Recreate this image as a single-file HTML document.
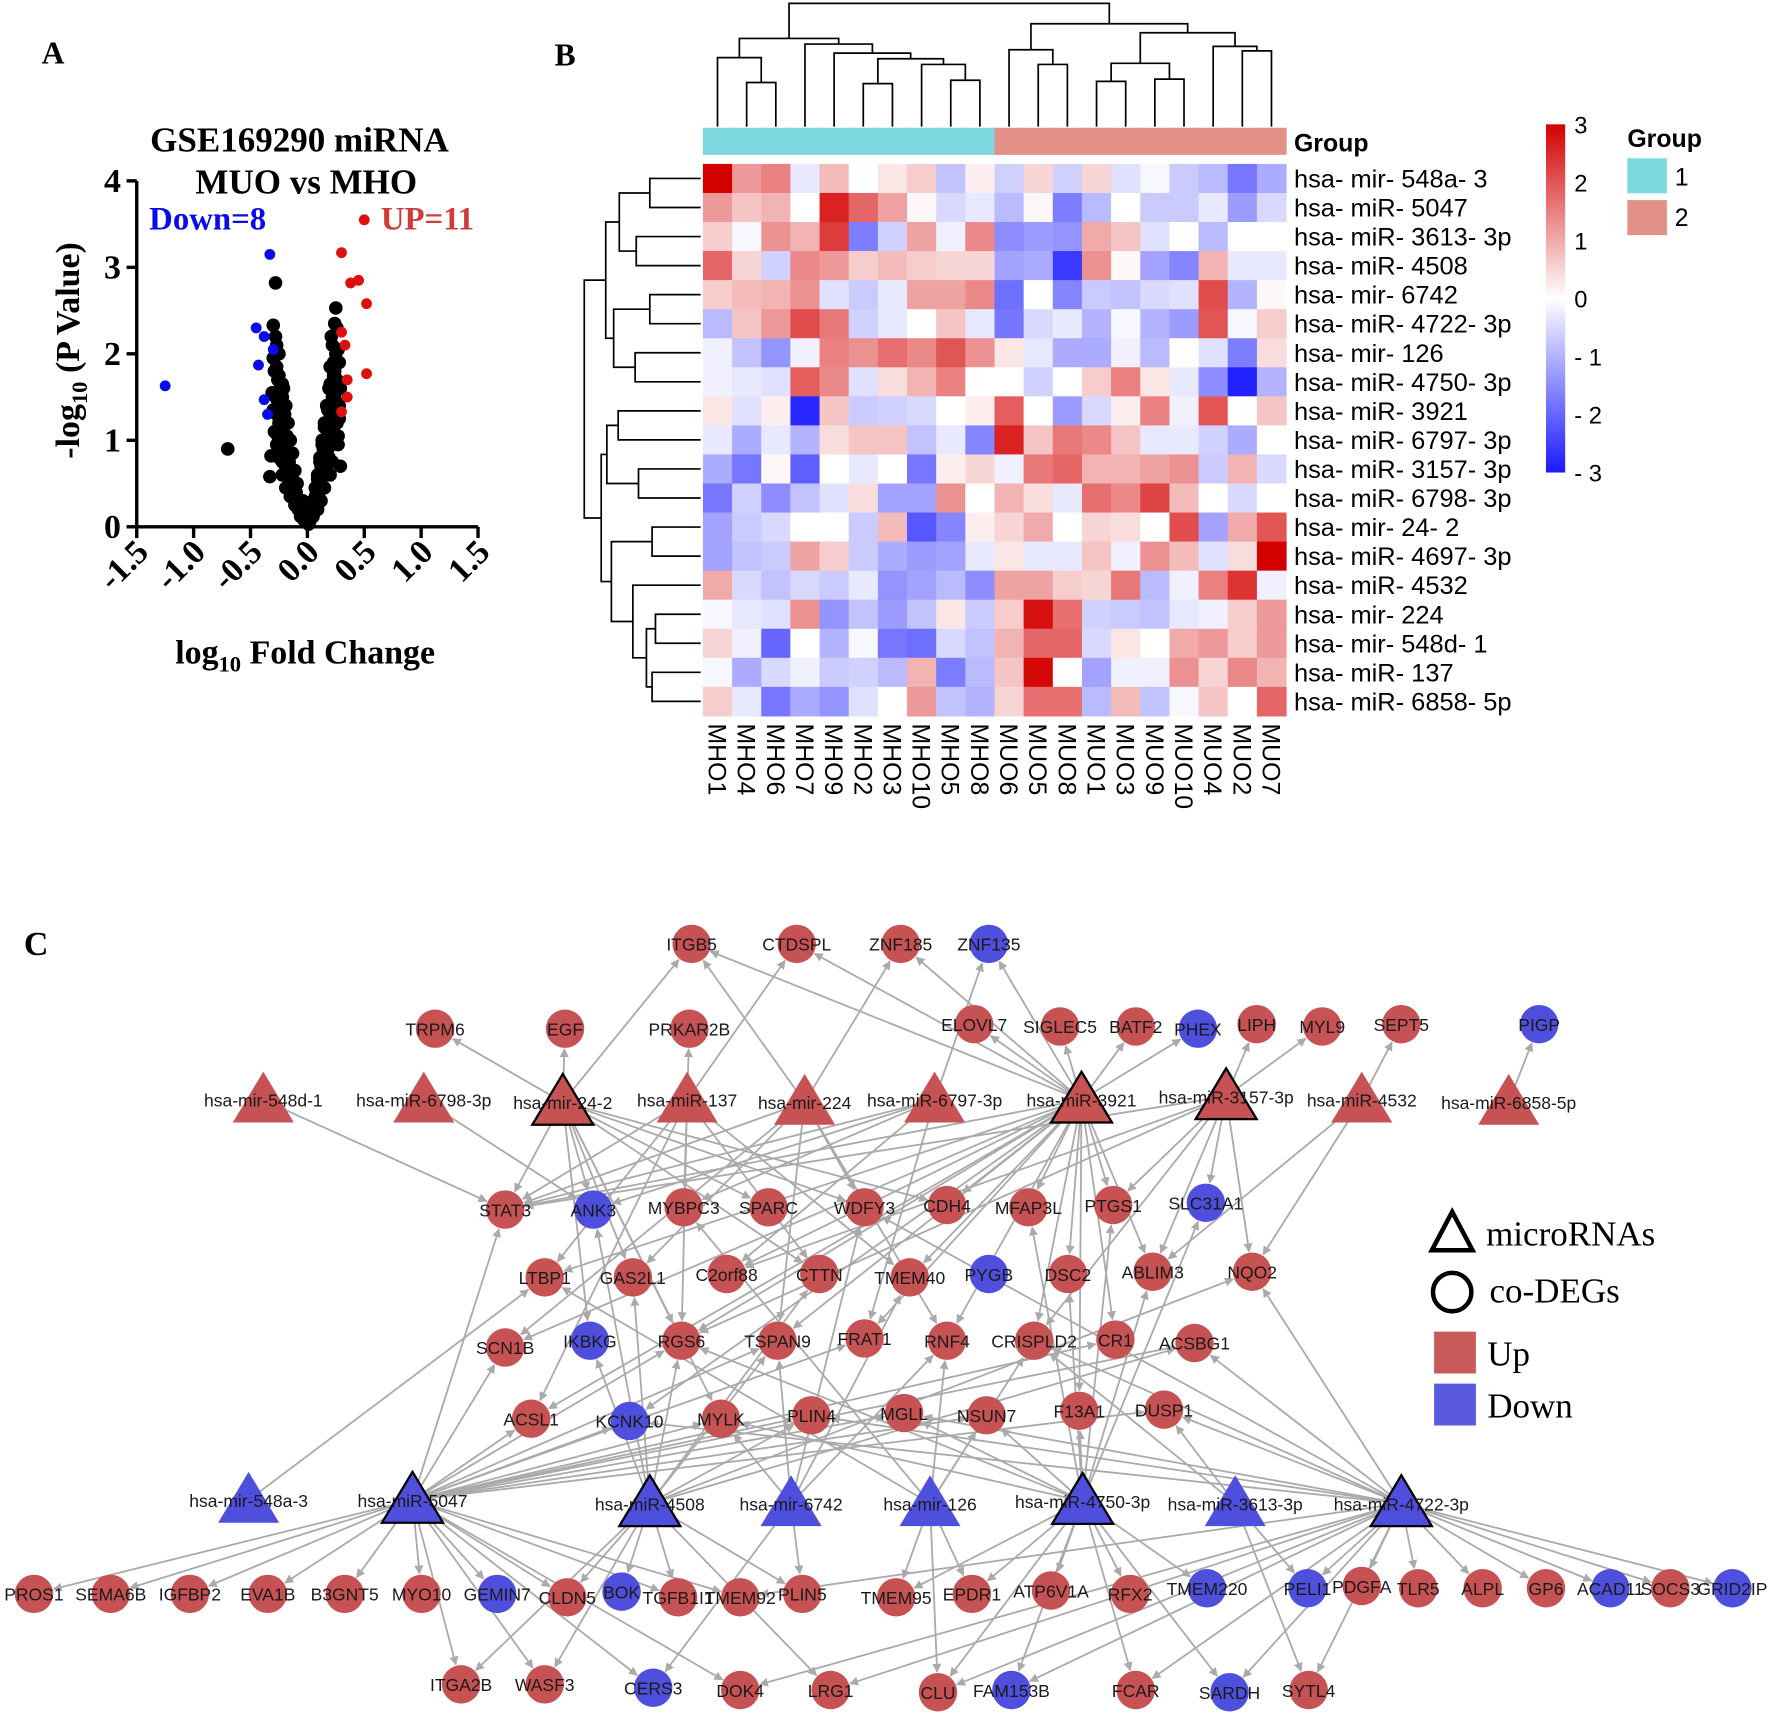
<!DOCTYPE html>
<html><head><meta charset="utf-8"><title>miRNA figure</title>
<style>html,body{margin:0;padding:0;background:#fff}svg{display:block}</style></head>
<body>
<svg id="fig" width="1772" height="1716" viewBox="0 0 1568 1518" preserveAspectRatio="none" xmlns="http://www.w3.org/2000/svg">
<defs>
<marker id="arr" viewBox="0 0 10 10" refX="9" refY="5" markerWidth="5" markerHeight="5" orient="auto"><path d="M0,0 L10,5 L0,10 z" fill="#aaa"/></marker>
<linearGradient id="cbar" x1="0" y1="0" x2="0" y2="1"><stop offset="0" stop-color="#d40000"/><stop offset="0.5" stop-color="#ffffff"/><stop offset="1" stop-color="#1a1aff"/></linearGradient>
</defs>
<g id="panelA"></g>
<g id="panelB"></g>
<g id="panelC"></g>
</svg>
<script>
// ---------- Panel A data ----------
const blackX = [-0.7,-0.28,-0.3,-0.33,-0.32,-0.28,-0.3,-0.27,-0.25,-0.29,-0.26,-0.24,-0.31,-0.28,-0.25,-0.22,-0.3,-0.27,-0.24,-0.21,-0.29,-0.26,-0.23,-0.2,-0.27,-0.24,-0.21,-0.18,-0.25,-0.22,-0.19,-0.16,-0.22,-0.19,-0.16,-0.13,-0.19,-0.16,-0.13,-0.1,-0.15,-0.12,-0.09,-0.07,-0.11,-0.08,-0.06,-0.04,-0.06,-0.03,-0.02,0,
 0.25,0.26,0.24,0.27,0.22,0.25,0.28,0.2,0.23,0.26,0.29,0.19,0.22,0.25,0.28,0.17,0.2,0.23,0.26,0.15,0.18,0.21,0.24,0.27,0.13,0.16,0.19,0.22,0.11,0.14,0.17,0.2,0.09,0.12,0.15,0.07,0.1,0.12,0.05,0.07,0.09,0.03,0.05,0.02,0.28,0.27,0.29,
 -0.27,-0.25,-0.23,-0.26,-0.24,-0.22,-0.2,-0.25,-0.23,-0.21,-0.19,-0.23,-0.21,-0.19,-0.17,-0.2,-0.18,-0.16,-0.14,-0.17,-0.15,-0.13,-0.11,-0.14,-0.12,-0.1,-0.08,-0.1,-0.08,-0.06,-0.05,-0.04,-0.02,-0.01,
 0.21,0.23,0.24,0.2,0.22,0.24,0.18,0.2,0.22,0.25,0.16,0.18,0.2,0.23,0.14,0.16,0.18,0.21,0.12,0.14,0.16,0.18,0.1,0.12,0.14,0.08,0.1,0.11,0.06,0.07,0.04,0.03,0.01,0.01,
 -0.21,-0.19,-0.17,-0.15,-0.13,-0.11,-0.09,0.19,0.17,0.15,0.13,0.11,0.09,0.07];
const blackY = [0.9,2.82,2.33,0.58,0.82,2.2,1.95,2.1,2.0,1.8,1.7,1.6,1.55,1.5,1.45,1.65,1.35,1.3,1.25,1.4,1.1,1.05,1.15,1.2,0.95,0.9,1.0,1.05,0.8,0.75,0.85,0.7,0.6,0.65,0.7,0.55,0.45,0.5,0.55,0.4,0.35,0.38,0.3,0.25,0.25,0.22,0.18,0.15,0.12,0.08,0.1,0.05,
 2.53,2.3,2.35,2.05,2.1,2.0,1.9,1.85,1.75,1.7,1.6,1.6,1.5,1.45,1.4,1.4,1.3,1.25,1.2,1.15,1.1,1.05,1.0,0.95,0.95,0.85,0.8,0.75,0.75,0.7,0.65,0.6,0.55,0.5,0.45,0.45,0.38,0.3,0.3,0.25,0.2,0.15,0.12,0.06,1.25,1.05,0.7,
 1.85,1.75,1.6,1.45,1.35,1.5,1.3,1.2,1.1,1.2,1.0,1.0,0.9,0.95,0.85,0.8,0.7,0.75,0.6,0.6,0.5,0.55,0.45,0.45,0.35,0.4,0.3,0.28,0.2,0.22,0.12,0.3,0.15,0.08,
 2.2,1.9,1.8,1.65,1.55,1.5,1.35,1.35,1.25,1.3,1.15,1.1,1.0,1.1,0.9,0.85,0.9,0.95,0.7,0.65,0.75,0.8,0.5,0.55,0.6,0.4,0.42,0.5,0.25,0.35,0.2,0.1,0.03,0.15,
 1.6,1.4,1.2,1.0,0.85,0.65,0.5,1.6,1.4,1.2,1.0,0.8,0.6,0.45];
const blueX = [-1.25,-0.33,-0.45,-0.38,-0.3,-0.43,-0.38,-0.35];
const blueY = [1.63,3.15,2.3,2.2,2.05,1.87,1.47,1.3];
const redX = [0.5,0.3,0.38,0.45,0.52,0.3,0.33,0.35,0.35,0.3,0.52];
const redY = [3.55,3.17,2.82,2.85,2.58,2.25,2.1,1.7,1.5,1.33,1.77];
const xTicks = ["-1.5","-1.0","-0.5","0.0","0.5","1.0","1.5"];
const xTickVals = [-1.5,-1,-0.5,0,0.5,1,1.5];
const yTickVals = [0,1,2,3,4];

// ---------- Panel B data ----------
const heatRows = ["hsa- mir- 548a- 3","hsa- miR- 5047","hsa- miR- 3613- 3p","hsa- miR- 4508","hsa- mir- 6742","hsa- miR- 4722- 3p","hsa- mir- 126","hsa- miR- 4750- 3p","hsa- miR- 3921","hsa- miR- 6797- 3p","hsa- miR- 3157- 3p","hsa- miR- 6798- 3p","hsa- mir- 24- 2","hsa- miR- 4697- 3p","hsa- miR- 4532","hsa- mir- 224","hsa- mir- 548d- 1","hsa- miR- 137","hsa- miR- 6858- 5p"];
const heatCols = ["MHO1","MHO4","MHO6","MHO7","MHO9","MHO2","MHO3","MHO10","MHO5","MHO8","MUO6","MUO5","MUO8","MUO1","MUO3","MUO9","MUO10","MUO4","MUO2","MUO7"];
const heatGroups = [1,1,1,1,1,1,1,1,1,1,2,2,2,2,2,2,2,2,2,2];
const heatVals = [
[3,1.2,1.5,-0.3,0.8,0,0.3,0.6,-0.8,0.2,-0.6,0.5,-0.6,0.5,-0.4,-0.1,-0.7,-0.9,-1.8,-1.1],
[1.2,0.7,0.9,0,2.6,1.8,1.1,0.1,-0.5,-0.3,-0.9,0.1,-1.7,-0.9,0,-0.7,-0.7,-0.3,-1.3,-0.5],
[0.6,-0.1,1.3,0.9,2.3,-1.7,-0.6,1.1,-0.2,1.4,-1.5,-1.3,-1.4,1.0,0.7,-0.4,0,-0.9,0,0],
[1.8,0.5,-0.6,1.4,1.2,0.6,0.8,0.6,0.5,0.5,-1.2,-1.1,-2.6,1.3,0.1,-1.2,-1.6,0.9,-0.3,-0.3],
[0.6,0.8,0.9,1.3,-0.4,-0.7,-0.3,1.1,1.1,1.4,-1.9,0,-1.6,-0.7,-0.8,-0.5,-0.4,2.1,-1,0.1],
[-0.9,0.7,1.2,2.1,1.6,-0.6,-0.3,0,0.7,-0.3,-1.8,-0.5,-0.3,-1.0,-0.1,-1.0,-1.3,2.0,-0.1,0.6],
[-0.2,-0.8,-1.4,-0.2,1.5,1.3,1.7,1.4,2.0,1.3,0.3,-0.3,-1.1,-1.1,-0.2,-0.9,0,-0.4,-1.7,0.4],
[-0.2,-0.3,-0.4,1.9,1.4,-0.4,0.4,0.9,1.5,0,0,-0.6,0,0.6,1.5,0.3,-0.3,-1.5,-2.9,-1.0],
[0.3,-0.4,0.2,-2.8,0.7,-0.7,-0.6,-0.5,0,0.2,1.9,0,-1.3,-0.5,0.2,1.5,-0.2,2.0,0,0.7],
[-0.3,-1.1,-0.3,-1.0,0.4,0.7,0.7,-0.8,-0.3,-1.6,2.6,0.7,1.6,1.4,0.7,-0.3,-0.3,-0.6,-1.1,0],
[-1.1,-1.8,0.1,-2.1,0,-0.3,0,-1.8,0.2,0.5,-0.2,1.6,1.8,0.9,0.9,1.1,1.3,-0.7,0.9,-0.5],
[-1.8,-0.6,-1.5,-0.8,-0.4,0.4,-1.2,-1.2,1.3,0,0.9,0.4,-0.3,1.7,1.4,2.2,0.8,0,-0.5,0],
[-1.2,-0.7,-0.5,0,0,-0.7,0.8,-2.2,-1.6,0.2,0.5,1.0,0,0.5,0.4,0,2.1,-1.2,1.0,2.0],
[-1.2,-0.8,-0.7,1.1,0.6,-0.7,-1.1,-1.3,-1.2,-0.3,0.3,-0.3,-0.3,0.7,-0.2,1.3,0.8,-0.4,0.4,3],
[1.0,-0.5,-0.8,-0.5,-0.7,-0.3,-1.4,-1.2,-0.9,-1.5,1.1,1.1,0.6,0.5,1.6,-0.9,-0.2,1.5,2.4,-0.2],
[-0.1,-0.3,-0.4,1.3,-1.4,-0.8,-1.3,-0.8,0.3,-0.7,0.6,2.8,1.7,-0.6,-0.7,-0.8,-0.3,-0.2,0.6,1.2],
[0.5,-0.2,-2.0,0,-1.0,-0.1,-1.8,-1.9,-0.5,-0.8,0.9,1.8,1.8,-0.5,0.3,0,1.0,1.2,0.6,1.2],
[-0.1,-1.1,-0.5,-0.2,-0.7,-0.6,-0.9,0.9,-1.7,-0.9,0.7,2.9,0,-1.2,-0.2,-0.2,1.3,0.5,1.4,0.9],
[0.6,-0.3,-1.8,-1.1,-1.4,-0.4,0,1.2,-0.8,-1.0,0.5,1.7,1.7,-0.9,0.8,-0.8,-0.1,0.7,0,1.8]];
const cbarTicks = ["3","2","1","0","- 1","- 2","- 3"];
const cbarVals = [3,2,1,0,-1,-2,-3];

// ---------- Panel C data ----------
const nodeNames = ["ITGB5","CTDSPL","ZNF185","ZNF135","TRPM6","EGF","PRKAR2B","ELOVL7","SIGLEC5","BATF2","PHEX","LIPH","MYL9","SEPT5","PIGP",
"hsa-mir-548d-1","hsa-miR-6798-3p","hsa-mir-24-2","hsa-miR-137","hsa-mir-224","hsa-miR-6797-3p","hsa-miR-3921","hsa-miR-3157-3p","hsa-miR-4532","hsa-miR-6858-5p",
"STAT3","ANK3","MYBPC3","SPARC","WDFY3","CDH4","MFAP3L","PTGS1","SLC31A1",
"LTBP1","GAS2L1","C2orf88","CTTN","TMEM40","PYGB","DSC2","ABLIM3","NQO2",
"SCN1B","IKBKG","RGS6","TSPAN9","FRAT1","RNF4","CRISPLD2","CR1","ACSBG1",
"ACSL1","KCNK10","MYLK","PLIN4","MGLL","NSUN7","F13A1","DUSP1",
"hsa-mir-548a-3","hsa-miR-5047","hsa-miR-4508","hsa-mir-6742","hsa-mir-126","hsa-miR-4750-3p","hsa-miR-3613-3p","hsa-miR-4722-3p",
"PROS1","SEMA6B","IGFBP2","EVA1B","B3GNT5","MYO10","GEMIN7","CLDN5","BOK","TGFB1I1","TMEM92","PLIN5","TMEM95","EPDR1","ATP6V1A","RFX2","TMEM220","PELI1","PDGFA","TLR5","ALPL","GP6","ACAD11","SOCS3","GRID2IP",
"ITGA2B","WASF3","CERS3","DOK4","LRG1","CLU","FAM153B","FCAR","SARDH","SYTL4"];
const nodeX = [612,705,797,875,385,500,610,862,938,1005,1060,1112,1170,1240,1362,
233,375,498,608,712,827,957,1085,1205,1335,
447,525,605,680,765,838,910,985,1067,
482,560,643,725,805,875,945,1020,1108,
447,522,603,688,765,838,915,987,1057,
470,557,638,718,800,873,955,1030,
220,365,575,700,823,958,1093,1240,
30,98,168,237,305,373,440,502,550,600,655,710,793,860,930,1000,1068,1157,1205,1255,1312,1368,1425,1478,1533,
408,482,578,655,735,830,895,1005,1088,1158];
const nodeY = [835,835,835,835,910,910,910,906,908,908,910,906,908,906,906,
973,973,975,973,975,973,973,970,973,975,
1070,1070,1068,1068,1068,1066,1068,1066,1064,
1130,1130,1127,1127,1130,1127,1127,1125,1125,
1192,1186,1186,1186,1184,1186,1186,1185,1188,
1255,1257,1255,1252,1250,1252,1248,1247,
1327,1327,1330,1330,1330,1328,1330,1330,
1410,1410,1410,1410,1410,1410,1410,1413,1408,1413,1413,1410,1413,1410,1407,1410,1405,1405,1403,1405,1405,1405,1405,1405,1405,
1490,1490,1493,1495,1495,1497,1495,1495,1497,1495];
const outlinedMirs = ["hsa-mir-24-2","hsa-miR-3921","hsa-miR-3157-3p","hsa-miR-5047","hsa-miR-4508","hsa-miR-4750-3p","hsa-miR-4722-3p"];
const downGenes = ["ZNF135","PHEX","PIGP","ANK3","SLC31A1","PYGB","IKBKG","KCNK10","GEMIN7","BOK","TMEM220","PELI1","ACAD11","GRID2IP","CERS3","FAM153B","SARDH"];
const downMirs = ["hsa-mir-548a-3","hsa-miR-5047","hsa-miR-4508","hsa-mir-6742","hsa-mir-126","hsa-miR-4750-3p","hsa-miR-3613-3p","hsa-miR-4722-3p"];
const edgeSrc = {
"hsa-mir-24-2":["TRPM6","EGF","ITGB5","STAT3","ANK3","GAS2L1","SPARC","WDFY3","RGS6","MYLK","CDH4","CTTN","IKBKG"],
"hsa-miR-137":["PRKAR2B","CTDSPL","MYBPC3","RGS6","STAT3","CTTN","TMEM40","LTBP1","ACSL1"],
"hsa-mir-224":["ZNF185","ITGB5","STAT3","RNF4","WDFY3","TSPAN9","SCN1B","GAS2L1"],
"hsa-miR-6797-3p":["ZNF135","STAT3","ANK3","C2orf88","MYBPC3","FRAT1"],
"hsa-mir-548d-1":["STAT3"],
"hsa-miR-6798-3p":["ANK3"],
"hsa-miR-3921":["ITGB5","CTDSPL","ZNF185","ZNF135","ELOVL7","SIGLEC5","BATF2","PHEX","STAT3","CDH4","MFAP3L","PTGS1","DSC2","ABLIM3","RNF4","CRISPLD2","F13A1","TMEM40","RGS6","TSPAN9","ACSL1","KCNK10","SCN1B","LTBP1","C2orf88","FRAT1","CR1"],
"hsa-miR-3157-3p":["LIPH","MYL9","SLC31A1","NQO2","ABLIM3","PTGS1","STAT3","RGS6","CRISPLD2","C2orf88"],
"hsa-miR-4532":["SEPT5","NQO2","ABLIM3"],
"hsa-miR-6858-5p":["PIGP"],
"hsa-mir-548a-3":["LTBP1"],
"hsa-miR-5047":["PROS1","SEMA6B","IGFBP2","EVA1B","B3GNT5","MYO10","GEMIN7","ITGA2B","WASF3","CLDN5","TGFB1I1","TMEM92","STAT3","SCN1B","ACSL1","KCNK10","RGS6","TSPAN9","FRAT1","PLIN4","MGLL","NSUN7","DUSP1","CR1","ACSBG1","MYLK","CERS3","DOK4"],
"hsa-miR-4508":["BOK","TGFB1I1","CLDN5","PLIN5","ITGA2B","GAS2L1","RGS6","ANK3","IKBKG","TSPAN9","CTTN","PLIN4","LRG1","WASF3","ACSBG1","NQO2"],
"hsa-mir-6742":["PLIN5","CERS3","TSPAN9","MYLK","RNF4","TMEM40","WDFY3"],
"hsa-mir-126":["RNF4","CRISPLD2","MYBPC3","CLU","NSUN7","TMEM95","EPDR1","LTBP1"],
"hsa-miR-4750-3p":["F13A1","ATP6V1A","RFX2","TMEM220","FCAR","SARDH","SLC31A1","MYLK","MGLL","NSUN7","CLU","FAM153B","EPDR1","TMEM95","MFAP3L","PTGS1","DSC2","ABLIM3","RGS6"],
"hsa-miR-3613-3p":["PELI1","DUSP1","SYTL4","CRISPLD2"],
"hsa-miR-4722-3p":["TLR5","ALPL","GP6","ACAD11","SOCS3","GRID2IP","PDGFA","SYTL4","SARDH","FCAR","FAM153B","CLU","NQO2","ACSBG1","CRISPLD2","MGLL","PLIN4","TMEM92","PELI1","KCNK10","DOK4","LRG1","WDFY3","DUSP1"]
};

const NS = "http://www.w3.org/2000/svg";
function mk(parent, tag, attrs, text){
  const e = document.createElementNS(NS, tag);
  for (const k in attrs) e.setAttribute(k, attrs[k]);
  if (text !== undefined) e.textContent = text;
  parent.appendChild(e);
  return e;
}
const serif = "'Liberation Serif', serif";
const sans = "'Liberation Sans', Arial, sans-serif";

// ================= Panel A =================
(function(){
  const g = document.getElementById('panelA');
  const X0 = 121, X1 = 423, Y0 = 466, Y1 = 160;
  const sx = v => X0 + (v + 1.5) / 3 * (X1 - X0);
  const sy = v => Y0 - v / 4 * (Y0 - Y1);
  let t;
  t = mk(g,'text',{x:47,y:56,'font-family':serif,'font-weight':'bold','font-size':28,'text-anchor':'middle'},'A');
   
  t = mk(g,'text',{x:265,y:134,'font-family':serif,'font-weight':'bold','font-size':31,'text-anchor':'middle'},'GSE169290 miRNA');
   
  t = mk(g,'text',{x:271,y:171,'font-family':serif,'font-weight':'bold','font-size':31,'text-anchor':'middle'},'MUO vs MHO');
   
  t = mk(g,'text',{x:132,y:203,'font-family':serif,'font-weight':'bold','font-size':29,fill:'#0a0aee'},'Down=8');
   
  t = mk(g,'text',{x:337,y:203,'font-family':serif,'font-weight':'bold','font-size':29,fill:'#d23a3a'},'UP=11');
   
  const ax = mk(g,'g',{});
   
  mk(ax,'line',{x1:X0,y1:Y1,x2:X0,y2:Y0,stroke:'#000','stroke-width':3});
  mk(ax,'line',{x1:X0,y1:Y0,x2:X1,y2:Y0,stroke:'#000','stroke-width':3});
  yTickVals.forEach(v=>{
    mk(ax,'line',{x1:X0-9,y1:sy(v),x2:X0,y2:sy(v),stroke:'#000','stroke-width':3});
    const l = mk(ax,'text',{x:X0-14,y:sy(v)+10,'font-family':serif,'font-weight':'bold','font-size':30,'text-anchor':'end'},String(v));
     
  });
  xTickVals.forEach((v,i)=>{
    mk(ax,'line',{x1:sx(v),y1:Y0,x2:sx(v),y2:Y0+10,stroke:'#000','stroke-width':3});
    const l = mk(ax,'text',{x:sx(v)+12,y:Y0+24,'font-family':serif,'font-weight':'bold','font-size':30,'text-anchor':'end',transform:`rotate(-45 ${sx(v)+12} ${Y0+24})`},xTicks[i]);
     
  });
  t = mk(g,'text',{x:270,y:587,'font-family':serif,'font-weight':'bold','font-size':30,'text-anchor':'middle'});
   
  t.innerHTML = 'log<tspan font-size="20" dy="7">10</tspan><tspan dy="-7"> Fold Change</tspan>';
  t = mk(g,'text',{x:70,y:310,'font-family':serif,'font-weight':'bold','font-size':30,'text-anchor':'middle',transform:'rotate(-90 70 310)'});
   
  t.innerHTML = '-log<tspan font-size="20" dy="7">10</tspan><tspan dy="-7"> (P Value)</tspan>';
  const pts = mk(g,'g',{});
   
  blackX.forEach((v,i)=>{ const c=mk(pts,'circle',{cx:sx(v),cy:sy(blackY[i]),r:6,fill:'#000'});
      });
  blueX.forEach((v,i)=>{ const c=mk(pts,'circle',{cx:sx(v),cy:sy(blueY[i]),r:4.8,fill:'#0a0aee'});
      });
  redX.forEach((v,i)=>{ const c=mk(pts,'circle',{cx:sx(v),cy:sy(redY[i]),r:4.8,fill:'#dd0f0f'});
      });
})();

// ================= Panel B =================
(function(){
  const g = document.getElementById('panelB');
  const L = 622, T = 145, CW = 25.8, RH = 25.7;
  let t = mk(g,'text',{x:500,y:58,'font-family':serif,'font-weight':'bold','font-size':28,'text-anchor':'middle'},'B');
   
  function col(v){
    const a = Math.min(1, Math.abs(v)/3);
    let r,gg,b;
    if (v>=0){ r=255+(212-255)*a; gg=255*(1-a); b=255*(1-a); }
    else { r=255+(26-255)*a; gg=255+(26-255)*a; b=255; }
    return `rgb(${Math.round(r)},${Math.round(gg)},${Math.round(b)})`;
  }
  const cells = mk(g,'g',{});
   
  heatVals.forEach((row,i)=>row.forEach((v,j)=>{
    const r = mk(cells,'rect',{x:L+j*CW,y:T+i*RH,width:CW+0.5,height:RH+0.5,fill:col(v)});
     
  }));
  heatGroups.forEach((gr,j)=>{
    const r = mk(g,'rect',{x:L+j*CW,y:113,width:CW+0.5,height:24,fill:gr===1?'#7dd9df':'#e39088'});
     
  });
  t = mk(g,'text',{x:1145,y:134,'font-family':sans,'font-weight':'bold','font-size':22},'Group');
   
  heatRows.forEach((n,i)=>{
    const l = mk(g,'text',{x:1145,y:T+i*RH+RH/2+8,'font-family':sans,'font-size':22.5},n);
     
  });
  heatCols.forEach((n,j)=>{
    const x = L+j*CW+CW/2-8, y = 640;
    const l = mk(g,'text',{x:x,y:y,'font-family':sans,'font-size':22,transform:`rotate(90 ${x} ${y})`},n);
     
  });
  const dg = mk(g,'g',{stroke:'#000','stroke-width':1.5,fill:'none'});
   
  function drawCol(n){
    if (typeof n === 'number') return [L+n*CW+CW/2, 112];
    const a = drawCol(n[0]), b = drawCol(n[1]), h = n[2];
    mk(dg,'path',{d:`M${a[0]},${a[1]} V${h} H${b[0]} V${b[1]}`});
    return [(a[0]+b[0])/2, h];
  }
  const cLeft = [[0,[1,2,73],51],[3,[4,[[5,6,74],[7,[8,9,71],57],52],47],39],34];
  const cRight = [[10,[11,12,57],44],[[[13,14,72],[15,16,70],56],[17,[18,19,45],41],29],21];
  drawCol([cLeft,cRight,3]);
  const rg = mk(g,'g',{stroke:'#000','stroke-width':1.5,fill:'none'});
   
  function drawRow(n){
    if (typeof n === 'number') return [620, T+n*RH+RH/2];
    const a = drawRow(n[0]), b = drawRow(n[1]), h = n[2];
    mk(rg,'path',{d:`M${a[0]},${a[1]} H${h} V${b[1]} H${b[0]}`});
    return [h,(a[1]+b[1])/2];
  }
  const rTop = [[[0,1,575],[2,3,563],548],[[4,5,575],[6,7,562],543],536];
  const rBot = [[[8,9,547],[10,11,565],537],[[12,13,577],[14,[[15,16,580],[17,18,577],572],560],541],532];
  drawRow([rTop,rBot,517]);
  const cb = mk(g,'rect',{x:1368,y:110,width:17,height:308,fill:'url(#cbar)'});
   
  cbarVals.forEach((v,i)=>{
    const l = mk(g,'text',{x:1393,y:110+(3-v)/6*308+8,'font-family':sans,'font-size':21},cbarTicks[i]);
     
  });
  t = mk(g,'text',{x:1440,y:130,'font-family':sans,'font-weight':'bold','font-size':22},'Group');
   
  let r = mk(g,'rect',{x:1440,y:140,width:35,height:31,fill:'#7dd9df'});
   
  r = mk(g,'rect',{x:1440,y:177,width:35,height:31,fill:'#e39088'});
   
  t = mk(g,'text',{x:1482,y:164,'font-family':sans,'font-size':22},'1');
   
  t = mk(g,'text',{x:1482,y:200,'font-family':sans,'font-size':22},'2');
   
})();

// ================= Panel C =================
(function(){
  const g = document.getElementById('panelC');
  const RED = '#c65253', BLUE = '#4f4fde';
  let t = mk(g,'text',{x:32,y:845,'font-family':serif,'font-weight':'bold','font-size':30,'text-anchor':'middle'},'C');
   
  const idx = {}; nodeNames.forEach((n,i)=>idx[n]=i);
  const eg = mk(g,'g',{stroke:'#aaa','stroke-width':1.6,fill:'none'});
   
  for (const s in edgeSrc){
    const a = idx[s];
    edgeSrc[s].forEach(tn=>{
      const b = idx[tn]; if (a===undefined||b===undefined) return;
      const x1=nodeX[a], y1=nodeY[a], x2=nodeX[b], y2=nodeY[b];
      const d = Math.hypot(x2-x1,y2-y1), k = (d-18)/d;
      const e = mk(eg,'line',{x1:x1,y1:y1,x2:x1+(x2-x1)*k,y2:y1+(y2-y1)*k,'marker-end':'url(#arr)'});
       
    });
  }
  const ng = mk(g,'g',{});
   
  nodeNames.forEach((n,i)=>{
    const down = downGenes.includes(n) || downMirs.includes(n);
    const fill = down ? BLUE : RED;
    const x = nodeX[i], y = nodeY[i];
    const isMir = n.startsWith('hsa-');
    const outlined = outlinedMirs.includes(n);
    let s;
    if (!isMir) s = mk(ng,'circle',{cx:x,cy:y,r:17,fill:fill});
    else s = mk(ng,'polygon',{points:`${x},${y-25} ${x-27},${y+20} ${x+27},${y+20}`,fill:fill,stroke:outlined?'#000':'none','stroke-width':2});
    
    
  });
  nodeNames.forEach((n,i)=>{
    const l = mk(ng,'text',{x:nodeX[i],y:nodeY[i]+6,'font-family':sans,'font-size':15.5,fill:'#1a1a1a','text-anchor':'middle'},n);
     
  });
  const lg = mk(g,'g',{});
   
  mk(lg,'polygon',{points:'1285,1072 1267,1106 1303,1106',fill:'none',stroke:'#000','stroke-width':4});
  mk(lg,'circle',{cx:1285,cy:1143,r:17,fill:'none',stroke:'#000','stroke-width':4});
  mk(lg,'rect',{x:1269,y:1178,width:37,height:37,fill:'#c85a5a'});
  mk(lg,'rect',{x:1269,y:1224,width:37,height:37,fill:'#5a5ade'});
  t = mk(lg,'text',{x:1315,y:1102,'font-family':serif,'font-size':31},'microRNAs');
   
  t = mk(lg,'text',{x:1318,y:1152,'font-family':serif,'font-size':31},'co-DEGs');
   
  t = mk(lg,'text',{x:1316,y:1208,'font-family':serif,'font-size':31},'Up');
   
  t = mk(lg,'text',{x:1316,y:1254,'font-family':serif,'font-size':31},'Down');
   
})();
</script>
</body></html>
